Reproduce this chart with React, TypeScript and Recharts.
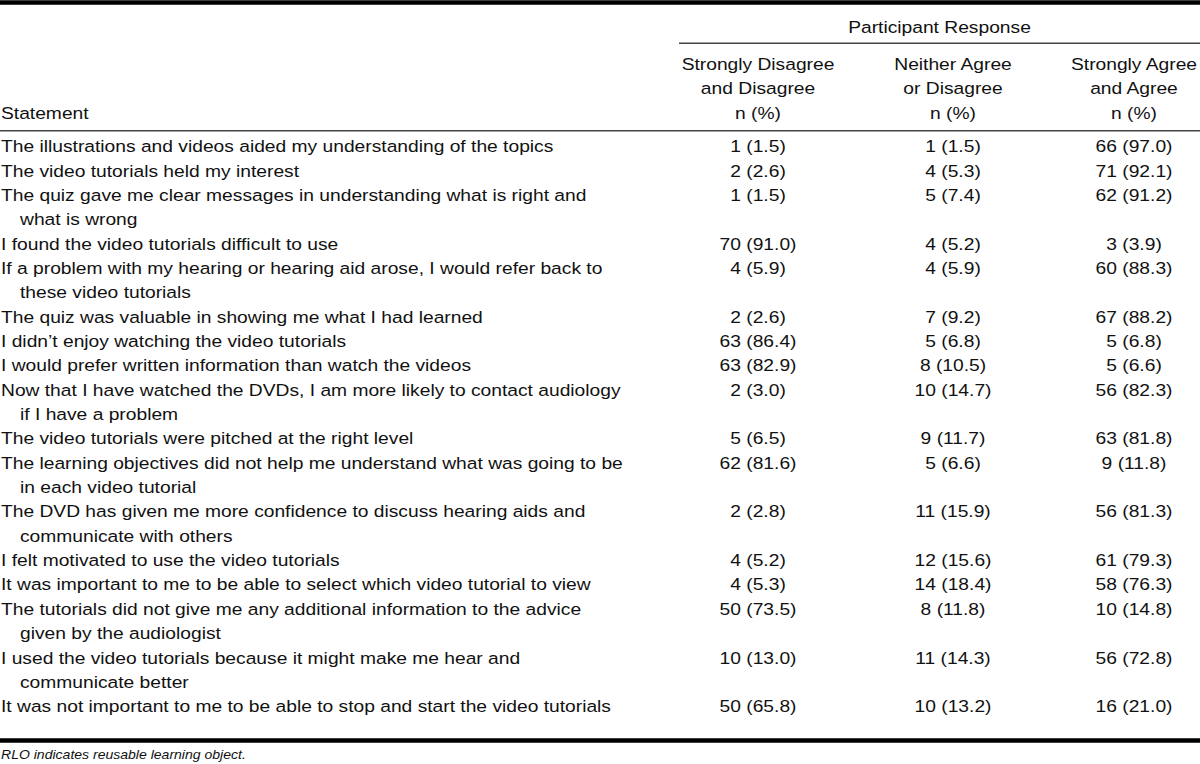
import { ComposedChart, Scatter, XAxis, YAxis, ReferenceLine } from 'recharts';

// statements, "\n" marks where the original wraps
const statements = [
  'The illustrations and videos aided my understanding of the topics',
  'The video tutorials held my interest',
  'The quiz gave me clear messages in understanding what is right and\nwhat is wrong',
  'I found the video tutorials difficult to use',
  'If a problem with my hearing or hearing aid arose, I would refer back to\nthese video tutorials',
  'The quiz was valuable in showing me what I had learned',
  'I didn\u2019t enjoy watching the video tutorials',
  'I would prefer written information than watch the videos',
  'Now that I have watched the DVDs, I am more likely to contact audiology\nif I have a problem',
  'The video tutorials were pitched at the right level',
  'The learning objectives did not help me understand what was going to be\nin each video tutorial',
  'The DVD has given me more confidence to discuss hearing aids and\ncommunicate with others',
  'I felt motivated to use the video tutorials',
  'It was important to me to be able to select which video tutorial to view',
  'The tutorials did not give me any additional information to the advice\ngiven by the audiologist',
  'I used the video tutorials because it might make me hear and\ncommunicate better',
  'It was not important to me to be able to stop and start the video tutorials',
];

const disagreeN = [1, 2, 1, 70, 4, 2, 63, 63, 2, 5, 62, 2, 4, 4, 50, 10, 50];
const disagreePct = [1.5, 2.6, 1.5, 91.0, 5.9, 2.6, 86.4, 82.9, 3.0, 6.5, 81.6, 2.8, 5.2, 5.3, 73.5, 13.0, 65.8];
const neitherN = [1, 4, 5, 4, 4, 7, 5, 8, 10, 9, 5, 11, 12, 14, 8, 11, 10];
const neitherPct = [1.5, 5.3, 7.4, 5.2, 5.9, 9.2, 6.8, 10.5, 14.7, 11.7, 6.6, 15.9, 15.6, 18.4, 11.8, 14.3, 13.2];
const agreeN = [66, 71, 62, 3, 60, 67, 5, 5, 56, 63, 9, 56, 61, 58, 10, 56, 16];
const agreePct = [97.0, 92.1, 91.2, 3.9, 88.3, 88.2, 6.8, 6.6, 82.3, 81.8, 11.8, 81.3, 79.3, 76.3, 14.8, 72.8, 21.0];

const spanHeader = 'Participant Response';
const columnHeaders = [
  ['Strongly Disagree', 'and Disagree', 'n (%)'],
  ['Neither Agree', 'or Disagree', 'n (%)'],
  ['Strongly Agree', 'and Agree', 'n (%)'],
];
const statementHeader = 'Statement';
const footnote = 'RLO indicates reusable learning object.';

// layout (y is in text-line units, 0 = first body line)
const W = 1200;
const H = 764;
const LINE0 = 146.7;
const PITCH = 24.35;
const toLine = (px: number) => (px - LINE0) / PITCH;
const COL_X = [758, 953, 1134];
const STMT_X = 1;
const INDENT_X = 20;
const FONT = '"Liberation Sans", Arial, Helvetica, sans-serif';
const INK = '#111';

type Cell = { x: number; y: number; text: string; anchor: 'start' | 'middle'; size?: number; italic?: boolean; stretch?: number };

// body cells
const stmtCells: Cell[] = [];
const valueCells: Cell[] = [];
let line = 0;
statements.forEach((s, i) => {
  const parts = s.split('\n');
  parts.forEach((p, j) => {
    stmtCells.push({ x: j === 0 ? STMT_X : INDENT_X, y: line + j, text: p, anchor: 'start' });
  });
  const vals = [
    `${disagreeN[i]} (${disagreePct[i].toFixed(1)})`,
    `${neitherN[i]} (${neitherPct[i].toFixed(1)})`,
    `${agreeN[i]} (${agreePct[i].toFixed(1)})`,
  ];
  vals.forEach((v, c) => valueCells.push({ x: COL_X[c], y: line, text: v, anchor: 'middle' }));
  line += parts.length;
});

const HEAD_ROWS = [toLine(65), toLine(89), toLine(113.3)];
const headerCells: Cell[] = [
  { x: (679 + W) / 2, y: toLine(27.3), text: spanHeader, anchor: 'middle' },
  { x: STMT_X, y: HEAD_ROWS[2], text: statementHeader, anchor: 'start' },
  ...columnHeaders.flatMap((col, c) =>
    col.map((t, r) => ({ x: COL_X[c], y: HEAD_ROWS[r], text: t, anchor: 'middle' as const }))
  ),
];
const footCells: Cell[] = [
  { x: STMT_X, y: toLine(755), text: footnote, anchor: 'start', size: 13, italic: true, stretch: 1.08 },
];

const renderCell = (props: any) => {
  const { cx, cy, payload } = props;
  const c = payload as Cell;
  return (
    <text
      transform={`translate(${cx},${cy}) scale(${c.stretch ?? 1.18},1)`}
      textAnchor={c.anchor}
      dominantBaseline="central"
      fontFamily={FONT}
      fontSize={c.size ?? 16.3}
      fontStyle={c.italic ? 'italic' : 'normal'}
      fill={INK}
    >
      {c.text}
    </text>
  );
};

export default function App() {
  return (
    <div style={{ width: W, height: H, background: '#fff' }}>
      <style>{'body{margin:0;background:#fff}'}</style>
      <ComposedChart width={W} height={H} margin={{ top: 0, right: 0, bottom: 0, left: 0 }}>
        <XAxis type="number" dataKey="x" domain={[0, W]} hide allowDataOverflow />
        <YAxis type="number" dataKey="y" domain={[toLine(0), toLine(H)]} reversed hide allowDataOverflow />
        <ReferenceLine y={toLine(2.5)} stroke="#000" strokeWidth={4.5} />
        <ReferenceLine
          segment={[{ x: 679, y: toLine(43.3) }, { x: W, y: toLine(43.3) }]}
          stroke="#444"
          strokeWidth={1.5}
        />
        <ReferenceLine y={toLine(130.7)} stroke="#444" strokeWidth={1.5} />
        <ReferenceLine y={toLine(740.5)} stroke="#000" strokeWidth={4.5} />
        <Scatter data={headerCells} shape={renderCell} isAnimationActive={false} />
        <Scatter data={stmtCells} shape={renderCell} isAnimationActive={false} />
        <Scatter data={valueCells} shape={renderCell} isAnimationActive={false} />
        <Scatter data={footCells} shape={renderCell} isAnimationActive={false} />
      </ComposedChart>
    </div>
  );
}
